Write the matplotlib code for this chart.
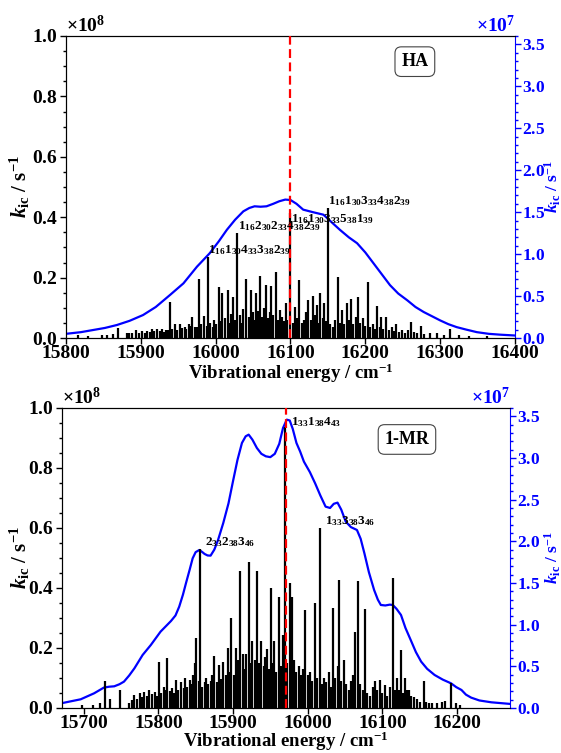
import matplotlib
matplotlib.use('Agg')
import numpy as np
import matplotlib.pyplot as plt
from matplotlib.ticker import MultipleLocator, ScalarFormatter

plt.rcParams['font.family'] = 'Liberation Serif'
plt.rcParams['font.weight'] = 'bold'
plt.rcParams['axes.labelweight'] = 'bold'
plt.rcParams['mathtext.fontset'] = 'custom'
plt.rcParams['mathtext.rm'] = 'Liberation Serif:bold'
plt.rcParams['mathtext.it'] = 'Liberation Serif:italic:bold'
plt.rcParams['mathtext.bf'] = 'Liberation Serif:bold'

# ---- HA : stick spectrum (k_ic in 1e8 s^-1) ----
ha_E = [15816, 15830, 15848, 15855, 15863, 15869, 15881, 15884, 15888, 15894,
        15898, 15901, 15905, 15908, 15912, 15915, 15918, 15921, 15925, 15928,
        15931, 15934, 15936, 15939, 15942, 15946, 15949, 15952, 15955, 15959,
        15961, 15964, 15967, 15969, 15972, 15975, 15978, 15981, 15985, 15988,
        15990, 15993, 15996, 15998, 16001, 16004, 16006, 16009, 16012, 16016,
        16018, 16020, 16023, 16026, 16029, 16032, 16034, 16037, 16041, 16044,
        16047, 16050, 16052, 16054, 16057, 16059, 16062, 16065, 16067, 16070,
        16072, 16074, 16077, 16080, 16083, 16086, 16088, 16091, 16094, 16096,
        16100, 16103, 16106, 16109, 16112, 16115, 16118, 16121, 16124, 16127,
        16130, 16133, 16135, 16138, 16140, 16143, 16145, 16148, 16150, 16153,
        16157, 16160, 16163, 16166, 16169, 16172, 16176, 16178, 16181, 16184,
        16187, 16190, 16193, 16197, 16200, 16203, 16206, 16210, 16213, 16216,
        16219, 16221, 16224, 16227, 16231, 16235, 16238, 16241, 16245, 16249,
        16253, 16257, 16261, 16265, 16269, 16274, 16279, 16287, 16296, 16305,
        16313, 16325, 16339, 16363]
ha_k = [0.010, 0.008, 0.010, 0.009, 0.013, 0.032, 0.018, 0.016, 0.018, 0.027,
        0.015, 0.022, 0.018, 0.023, 0.020, 0.029, 0.024, 0.031, 0.022, 0.031,
        0.020, 0.025, 0.028, 0.120, 0.030, 0.046, 0.028, 0.046, 0.032, 0.038,
        0.030, 0.046, 0.040, 0.068, 0.035, 0.038, 0.194, 0.045, 0.073, 0.040,
        0.267, 0.050, 0.035, 0.060, 0.045, 0.170, 0.055, 0.150, 0.065, 0.159,
        0.050, 0.080, 0.135, 0.060, 0.347, 0.075, 0.049, 0.095, 0.196, 0.070,
        0.159, 0.085, 0.060, 0.148, 0.090, 0.206, 0.070, 0.100, 0.174, 0.065,
        0.085, 0.172, 0.075, 0.218, 0.060, 0.093, 0.070, 0.055, 0.115, 0.060,
        0.413, 0.050, 0.104, 0.065, 0.192, 0.050, 0.061, 0.085, 0.126, 0.060,
        0.139, 0.075, 0.110, 0.050, 0.148, 0.065, 0.117, 0.055, 0.430, 0.045,
        0.038, 0.060, 0.203, 0.050, 0.093, 0.045, 0.117, 0.060, 0.128, 0.045,
        0.070, 0.137, 0.050, 0.065, 0.040, 0.186, 0.035, 0.045, 0.030, 0.107,
        0.035, 0.071, 0.030, 0.069, 0.025, 0.035, 0.022, 0.046, 0.020, 0.028,
        0.018, 0.025, 0.054, 0.020, 0.015, 0.041, 0.012, 0.018, 0.017, 0.010,
        0.030, 0.010, 0.007, 0.007]

# ---- HA : broadened spectrum (1e7 s^-1) ----
ha_curve_E = [15800, 15820, 15836, 15852, 15868, 15885, 15903, 15920, 15939, 15957,
              15975, 15992, 16004, 16015, 16026, 16037, 16045, 16052, 16060, 16068,
              16077, 16085, 16093, 16100, 16108, 16117, 16130, 16144, 16155, 16166,
              16178, 16189, 16200, 16211, 16222, 16233, 16244, 16256, 16267, 16278,
              16289, 16300, 16311, 16322, 16335, 16349, 16365, 16380, 16400]
ha_curve_k = [0.05, 0.07, 0.095, 0.12, 0.155, 0.205, 0.274, 0.37, 0.513, 0.652,
              0.85, 1.01, 1.15, 1.29, 1.41, 1.51, 1.55, 1.57, 1.565, 1.57,
              1.60, 1.63, 1.65, 1.645, 1.60, 1.53, 1.50, 1.47, 1.38, 1.29,
              1.20, 1.13, 1.02, 0.89, 0.76, 0.63, 0.53, 0.45, 0.37, 0.31,
              0.26, 0.21, 0.165, 0.13, 0.10, 0.07, 0.05, 0.04, 0.03]

ha_labels = [r'$1_{16}1_{30}4_{33}3_{38}2_{39}$', r'$1_{16}2_{30}2_{33}4_{38}2_{39}$',
             r'$1_{16}1_{30}3_{33}5_{38}1_{39}$', r'$1_{16}1_{30}3_{33}4_{38}2_{39}$']
ha_label_E = [15990, 16029.5, 16101, 16150]
ha_label_k = [0.267, 0.347, 0.37, 0.43]

# ---- 1-MR : stick spectrum (1e8 s^-1) ----
mr_E = [15698, 15712, 15722, 15729, 15735, 15749, 15761, 15765, 15768, 15771,
        15775, 15778, 15781, 15785, 15788, 15791, 15795, 15798, 15801, 15804,
        15807, 15810, 15812, 15815, 15818, 15821, 15824, 15827, 15831, 15834,
        15836, 15839, 15842, 15845, 15847, 15849, 15851, 15854, 15856, 15859,
        15862, 15864, 15867, 15870, 15872, 15875, 15878, 15881, 15884, 15887,
        15890, 15893, 15896, 15898, 15901, 15904, 15907, 15910, 15913, 15915,
        15918, 15921, 15924, 15926, 15929, 15932, 15935, 15938, 15941, 15943,
        15945, 15948, 15951, 15953, 15955, 15958, 15961, 15964, 15967, 15969,
        15973, 15976, 15979, 15982, 15985, 15988, 15991, 15994, 15997, 16000,
        16003, 16006, 16010, 16013, 16016, 16019, 16022, 16025, 16028, 16031,
        16034, 16037, 16040, 16042, 16045, 16049, 16052, 16055, 16058, 16061,
        16064, 16067, 16070, 16074, 16077, 16080, 16084, 16087, 16090, 16093,
        16097, 16100, 16103, 16106, 16110, 16114, 16117, 16119, 16122, 16125,
        16128, 16131, 16133, 16136, 16139, 16143, 16146, 16150, 16156, 16159,
        16163, 16166, 16173, 16180, 16184, 16192, 16199, 16204]
mr_k = [0.010, 0.010, 0.016, 0.090, 0.030, 0.060, 0.018, 0.025, 0.043, 0.030,
        0.049, 0.035, 0.054, 0.040, 0.060, 0.045, 0.052, 0.040, 0.154, 0.050,
        0.071, 0.060, 0.166, 0.055, 0.066, 0.050, 0.094, 0.060, 0.085, 0.065,
        0.099, 0.070, 0.094, 0.080, 0.110, 0.150, 0.234, 0.090, 0.529, 0.070,
        0.085, 0.100, 0.080, 0.090, 0.110, 0.173, 0.085, 0.144, 0.095, 0.154,
        0.110, 0.199, 0.120, 0.301, 0.110, 0.200, 0.160, 0.457, 0.180, 0.130,
        0.180, 0.488, 0.150, 0.222, 0.160, 0.457, 0.150, 0.222, 0.140, 0.170,
        0.196, 0.130, 0.401, 0.150, 0.222, 0.120, 0.369, 0.140, 0.244, 0.935,
        0.150, 0.418, 0.371, 0.160, 0.120, 0.140, 0.110, 0.130, 0.327, 0.110,
        0.120, 0.090, 0.351, 0.100, 0.601, 0.080, 0.100, 0.085, 0.120, 0.070,
        0.332, 0.100, 0.140, 0.427, 0.090, 0.160, 0.080, 0.060, 0.090, 0.110,
        0.254, 0.424, 0.080, 0.060, 0.330, 0.050, 0.040, 0.070, 0.090, 0.060,
        0.093, 0.050, 0.078, 0.040, 0.070, 0.432, 0.060, 0.100, 0.060, 0.193,
        0.050, 0.100, 0.060, 0.060, 0.040, 0.035, 0.030, 0.020, 0.091, 0.020,
        0.015, 0.017, 0.017, 0.020, 0.022, 0.084, 0.017, 0.010]

# ---- 1-MR : broadened spectrum (1e7 s^-1) ----
mr_curve_E = [15672, 15696, 15714, 15727, 15734, 15741, 15748, 15754, 15761, 15768,
              15779, 15790, 15803, 15817, 15823, 15828, 15833, 15837, 15842, 15846,
              15850, 15855, 15859, 15862, 15866, 15870, 15875, 15880, 15887, 15894,
              15900, 15906, 15912, 15917, 15921, 15926, 15932, 15938, 15944, 15950,
              15956, 15962, 15967, 15972, 15976, 15980, 15985, 15990, 15995, 16003,
              16010, 16017, 16024, 16030, 16035, 16040, 16045, 16051, 16058, 16066,
              16071, 16076, 16082, 16089, 16094, 16098, 16104, 16110, 16114, 16119,
              16125, 16131, 16138, 16145, 16152, 16160, 16170, 16181, 16192, 16199,
              16206, 16212, 16219, 16230, 16246, 16272]
mr_curve_k = [0.06, 0.104, 0.176, 0.244, 0.255, 0.26, 0.285, 0.316, 0.39, 0.476,
              0.636, 0.756, 0.916, 1.044, 1.11, 1.216, 1.36, 1.496, 1.66, 1.796,
              1.87, 1.896, 1.87, 1.848, 1.83, 1.828, 1.90, 2.016, 2.22, 2.456,
              2.72, 2.976, 3.18, 3.26, 3.28, 3.22, 3.12, 3.05, 3.02, 3.01,
              3.05, 3.17, 3.36, 3.46, 3.45, 3.35, 3.18, 3.076, 2.956, 2.83,
              2.696, 2.55, 2.416, 2.40, 2.45, 2.464, 2.38, 2.236, 2.17, 2.136,
              2.03, 1.856, 1.63, 1.416, 1.30, 1.236, 1.23, 1.24, 1.236, 1.19,
              1.116, 0.96, 0.816, 0.67, 0.556, 0.47, 0.396, 0.34, 0.296, 0.25,
              0.216, 0.16, 0.124, 0.09, 0.068, 0.048]

mr_labels = [r'$2_{33}2_{38}3_{46}$', r'$1_{33}3_{38}3_{46}$', r'$1_{33}1_{38}4_{43}$']
mr_label_E = [15863, 16023, 15978]
mr_label_k = [0.53, 0.60, 0.93]

ha_center = 16100
mr_center = 15971

klabel = r'$k_{\rm ic}$ / s$^{-1}$'


def panel(rect, E, k, cE, ck, center, xticks, labs, labE, labk, name, namepos,
          xlabpad):
    ax = fig.add_axes(rect)
    w = rect[2] * 561
    ax.vlines(np.array(E), 0, np.array(k) * 1e8, color='black', lw=1.6, zorder=2)
    ax.axvline(center, color='red', ls=(0, (4, 2)), lw=1.6, zorder=4)
    for s, xe, ye in zip(labs, labE, labk):
        ax.text(xe, ye * 1e8, s, fontsize=9.5, ha='left', va='bottom', zorder=5)
    ax.set_xlim(center - 300, center + 300)
    ax.set_ylim(0, 1e8)
    ax.set_xticks(xticks)
    ax.yaxis.set_major_locator(MultipleLocator(0.2e8))
    ax.yaxis.set_minor_locator(MultipleLocator(0.05e8))
    ax.yaxis.set_major_formatter(ScalarFormatter(useMathText=True))
    ax.tick_params(which='both', direction='out', width=1, labelsize=14, pad=2)
    ax.tick_params(axis='x', pad=1)
    ax.tick_params(which='major', length=4)
    ax.tick_params(which='minor', length=2.5)
    ax.yaxis.get_offset_text().set_fontsize(14)
    ax.set_xlabel(r'Vibrational energy / cm$^{-1}$', fontsize=13.5, labelpad=xlabpad)
    ax.set_ylabel(klabel, fontsize=15)
    ax.yaxis.set_label_coords(-(rect[0] * 561 - 32) / w, 0.5)
    ax.spines['right'].set_visible(False)
    ax.text(namepos[0], namepos[1], name, transform=ax.transAxes, fontsize=13,
            ha='center', va='center',
            bbox=dict(boxstyle='round,pad=0.35', fc='white', ec='#444444', lw=0.8))

    ax2 = ax.twinx()
    ax2.plot(cE, np.array(ck) * 1e7, color='blue', lw=1.6, zorder=3)
    ax2.set_ylim(0, 3.6e7)
    ax2.yaxis.set_major_locator(MultipleLocator(0.5e7))
    ax2.yaxis.set_minor_locator(MultipleLocator(0.1e7))
    ax2.yaxis.set_major_formatter(ScalarFormatter(useMathText=True))
    ax2.tick_params(which='both', direction='out', width=1, labelsize=12.5, pad=1,
                    colors='blue')
    ax2.tick_params(which='major', length=4)
    ax2.tick_params(which='minor', length=2.5)
    ax2.yaxis.get_offset_text().set_fontsize(14)
    ax2.yaxis.get_offset_text().set_color('blue')
    ax2.spines['right'].set_color('blue')
    ax2.set_ylabel(klabel, fontsize=12.5, color='blue')
    ax2.yaxis.set_label_coords(1 + (543 - (rect[0] + rect[2]) * 561) / w, 0.5)
    ax.set_zorder(ax2.get_zorder() + 1)
    ax.patch.set_visible(False)
    return ax


fig = plt.figure(figsize=(5.61, 7.53), dpi=100)

panel([0.1176, 0.5511, 0.8004, 0.4011], ha_E, ha_k, ha_curve_E, ha_curve_k,
      ha_center, [15800, 15900, 16000, 16100, 16200, 16300, 16400],
      ha_labels, ha_label_E, ha_label_k, 'HA', (0.777, 0.915), 0)
panel([0.1105, 0.0598, 0.7986, 0.3984], mr_E, mr_k, mr_curve_E, mr_curve_k,
      mr_center, [15700, 15800, 15900, 16000, 16100, 16200],
      mr_labels, mr_label_E, mr_label_k, '1-MR', (0.77, 0.895), -2)

fig.savefig('out.png', dpi=100)
